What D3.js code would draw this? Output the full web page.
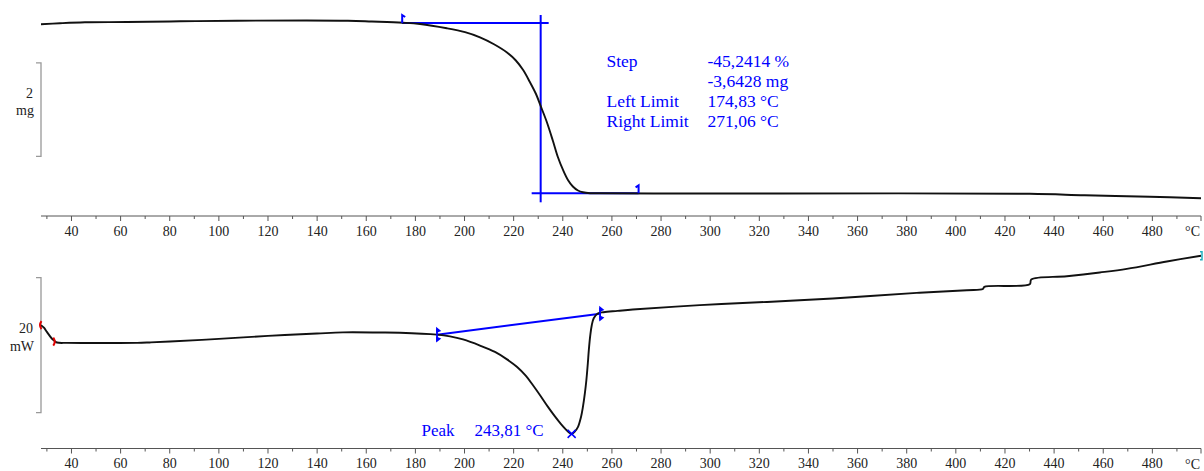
<!DOCTYPE html>
<html>
<head>
<meta charset="utf-8">
<script src="https://cdn.jsdelivr.net/npm/d3@7"></script>
<style>
  html, body { margin: 0; padding: 0; background: #fff; }
  svg { display: block; }
  text { font-family: "Liberation Serif", "Times New Roman", serif; }
</style>
</head>
<body>
<svg id="chart" width="1204" height="471"></svg>
<script>
// ---------------- DATA ----------------
// Temperature axis (°C)
const tempDomain = [27.8, 500];
const majorTicks = [40,60,80,100,120,140,160,180,200,220,240,260,280,300,320,340,360,380,400,420,440,460,480];
const minorTicks = [30,50,70,90,110,130,150,170,190,210,230,250,270,290,310,330,350,370,390,410,430,450,470,490];
const axisUnit = "°C";

// TGA: mass (mg) vs temperature (°C)
const tgaTemp = [27.8, 35.5, 45.7, 62.8, 84.4, 107.6, 152.7, 162.5, 175.1, 182.1, 193.0, 200.4, 206.5, 212.2, 217.5, 221.1, 224.0, 226.8, 229.3, 231.3, 233.7, 236.2, 238.2, 240.3, 242.3, 244.3, 246.4, 248.4, 251.3, 255.4, 287.9, 328.6, 430.3, 452.7, 479.2, 500.0];
const tgaMass = [8.024, 8.046, 8.067, 8.073, 8.088, 8.101, 8.101, 8.084, 8.058, 8.031, 7.939, 7.855, 7.745, 7.597, 7.420, 7.250, 7.050, 6.790, 6.533, 6.262, 5.934, 5.528, 5.186, 4.908, 4.694, 4.555, 4.469, 4.431, 4.411, 4.409, 4.405, 4.405, 4.398, 4.366, 4.336, 4.302];

// TGA step evaluation
const stepPercent = "-45,2414 %";
const stepMg = "-3,6428 mg";
const leftLimit = 174.83;
const rightLimit = 271.06;
const stepMidTemp = 231.2;
const stepUpperMass = 8.052;
const stepLowerMass = 4.409;
const tgaScaleBar = [7.2, 5.2];   // 2 mg
const tgaScaleLabel = ["2", "mg"];

// DSC: heat flow (mW) vs temperature (°C)
const dscTemp = [27.8, 29.0, 30.2, 32.2, 33.2, 34.3, 38.3, 51.8, 66.9, 72.2, 80.3, 100.2, 120.2, 140.1, 150.7, 165.8, 173.9, 189.0, 194.3, 199.6, 206.5, 212.6, 217.5, 221.5, 225.2, 228.0, 231.3, 234.1, 237.0, 239.4, 241.5, 243.0, 243.81, 245.2, 246.4, 247.6, 248.4, 249.2, 249.8, 250.4, 250.8, 251.4, 252.0, 252.8, 254.4, 256.8, 262.5, 268.7, 296.0, 323.3, 350.1, 384.3, 404.7, 411.2, 411.8, 430.3, 430.9, 445.4, 458.8, 469.8, 486.1, 500.0];
const dscFlow = [2.96, 2.59, 1.97, 0.99, 0.67, 0.40, 0.34, 0.33, 0.34, 0.41, 0.55, 0.93, 1.38, 1.73, 1.90, 1.88, 1.84, 1.56, 1.30, 0.85, -0.05, -1.00, -2.10, -3.20, -4.55, -5.90, -7.60, -9.10, -10.55, -11.65, -12.50, -13.00, -13.14, -12.74, -12.10, -10.67, -9.14, -7.11, -5.19, -2.67, -0.74, 1.48, 2.96, 4.00, 4.70, 4.89, 5.08, 5.29, 5.93, 6.41, 6.92, 7.75, 8.15, 8.33, 8.64, 9.04, 9.73, 10.22, 10.77, 11.30, 12.40, 13.26];

// DSC peak evaluation
const peakTemp = 243.81;
const peakFlow = -13.14;
const peakLabel = ["Peak", "243,81 °C"];
const baselineTemp = [189.0, 255.4];
const baselineFlow = [1.55, 4.67];
const dscStartMarks = [27.8, 33.2];
const dscScaleBar = [10, -10];    // 20 mW
const dscScaleLabel = ["20", "mW"];

// ---------------- DRAWING ----------------
const svg = d3.select("#chart");
const blue = "#0000ff";

const x = d3.scaleLinear().domain(tempDomain).range([41, 1201]);
const yT = d3.scaleLinear().domain([stepLowerMass, stepUpperMass]).range([193.3, 23]);
const yD = d3.scaleLinear().domain([-10, 10]).range([412.7, 277.7]);

function drawAxis(yPos) {
  const g = svg.append("g").attr("transform", `translate(0,${yPos})`);
  const major = d3.axisBottom(x).tickValues(majorTicks).tickSize(5).tickSizeOuter(0).tickPadding(5).tickFormat(d3.format("d"));
  const ga = g.append("g").call(major);
  ga.select(".domain").remove();
  ga.selectAll("line").attr("stroke", "#555");
  ga.selectAll("text").attr("font-family", "Liberation Serif").attr("font-size", 14).attr("fill", "#222");
  const minor = d3.axisBottom(x).tickValues(minorTicks).tickSize(3).tickSizeOuter(0).tickFormat("");
  const gm = g.append("g").call(minor);
  gm.select(".domain").remove();
  gm.selectAll("line").attr("stroke", "#555");
  g.append("line").attr("x1", x(tempDomain[0])).attr("x2", x(tempDomain[1]))
    .attr("y1", 0).attr("y2", 0).attr("stroke", "#555").attr("stroke-width", 1);
  g.append("line").attr("x1", x(tempDomain[1])).attr("x2", x(tempDomain[1]))
    .attr("y1", 0).attr("y2", 5).attr("stroke", "#555");
  g.append("text").attr("x", x(tempDomain[1]) - 1).attr("y", 20)
    .attr("text-anchor", "end").attr("font-size", 14).attr("fill", "#222").text(axisUnit);
}
drawAxis(216);
drawAxis(448.5);

function scaleBar(y1, y2, labels) {
  const g = svg.append("g").attr("stroke", "#999").attr("stroke-width", 1.3).attr("fill", "none");
  g.append("path").attr("d", `M36,${y1}H41V${y2}H36`);
  const mid = (y1 + y2) / 2;
  svg.append("text").attr("x", 33).attr("y", mid - 12).attr("text-anchor", "end")
    .attr("font-size", 14).attr("fill", "#222").text(labels[0]);
  svg.append("text").attr("x", 34).attr("y", mid + 5.5).attr("text-anchor", "end")
    .attr("font-size", 14).attr("fill", "#222").text(labels[1]);
}
scaleBar(yT(tgaScaleBar[0]), yT(tgaScaleBar[1]), tgaScaleLabel);
scaleBar(yD(dscScaleBar[0]), yD(dscScaleBar[1]), dscScaleLabel);

// ---- TGA step construction
const xm = x(stepMidTemp);
const yU = yT(stepUpperMass), yL = yT(stepLowerMass);
const stepG = svg.append("g").attr("stroke", blue).attr("stroke-width", 2).attr("fill", "none");
stepG.append("line").attr("x1", x(leftLimit)).attr("x2", xm + 8).attr("y1", yU).attr("y2", yU);
stepG.append("line").attr("x1", xm - 9).attr("x2", x(rightLimit)).attr("y1", yL).attr("y2", yL);
stepG.append("line").attr("x1", xm).attr("x2", xm).attr("y1", yU - 8).attr("y2", yL + 9);

const smooth = d3.curveCatmullRom.alpha(0.5);

// TGA curve
const tgaData = tgaTemp.map((t, i) => [t, tgaMass[i]]);
svg.append("path").datum(tgaData)
  .attr("d", d3.line().x(d => x(d[0])).y(d => yT(d[1])).curve(smooth))
  .attr("fill", "none").attr("stroke", "#111").attr("stroke-width", 1.9);

// limit markers
function flag(cx, cy, dir) {
  svg.append("path").attr("d", `M${cx},${cy}V${cy - 8}l${dir * 3},2`)
    .attr("stroke", blue).attr("stroke-width", 2).attr("fill", "none");
}
flag(x(leftLimit), yU, 1);
flag(x(rightLimit), yL, -1);

// step annotation text
const ann = svg.append("g").attr("font-size", 17.5).attr("fill", blue);
const labX = 606.5, valX = 707.5;
const rows = [["Step", stepPercent], ["", stepMg], ["Left Limit", `${leftLimit.toFixed(2).replace(".", ",")} °C`], ["Right Limit", `${rightLimit.toFixed(2).replace(".", ",")} °C`]];
rows.forEach((r, i) => {
  const yb = 66.5 + i * 20;
  ann.append("text").attr("x", labX).attr("y", yb).text(r[0]);
  ann.append("text").attr("x", valX).attr("y", yb).text(r[1]);
});

// ---- DSC
svg.append("line")
  .attr("x1", x(baselineTemp[0])).attr("y1", yD(baselineFlow[0]))
  .attr("x2", x(baselineTemp[1])).attr("y2", yD(baselineFlow[1]))
  .attr("stroke", blue).attr("stroke-width", 2);

const dscData = dscTemp.map((t, i) => [t, dscFlow[i]]);
svg.append("path").datum(dscData)
  .attr("d", d3.line().x(d => x(d[0])).y(d => yD(d[1])).curve(smooth))
  .attr("fill", "none").attr("stroke", "#111").attr("stroke-width", 1.9);

// baseline markers
function limitMark(t, v) {
  const cx = x(t), cy = yD(v);
  const g = svg.append("g").attr("stroke", blue).attr("stroke-width", 1.8).attr("fill", blue);
  g.append("line").attr("x1", cx).attr("x2", cx).attr("y1", cy - 6).attr("y2", cy + 6);
  g.append("path").attr("d", `M${cx},${cy - 6}l2.5,2l-2.5,1z`);
  g.append("path").attr("d", `M${cx},${cy + 6}l2.5,-2l-2.5,-1z`);
}
limitMark(baselineTemp[0], baselineFlow[0]);
limitMark(baselineTemp[1], baselineFlow[1]);

// red integration marks at start
const r0x = x(dscStartMarks[0]) - 1.5, r0y = yD(dscFlow[0]);
svg.append("path").attr("d", `M${r0x + 2},${r0y - 4}Q${r0x - 1},${r0y} ${r0x + 2},${r0y + 4}`)
  .attr("stroke", "#e00000").attr("stroke-width", 2).attr("fill", "none");
const r1x = x(dscStartMarks[1]), r1y = yD(dscFlow[4]) + 1;
svg.append("path").attr("d", `M${r1x - 1},${r1y - 4}Q${r1x + 2},${r1y} ${r1x - 1},${r1y + 4}`)
  .attr("stroke", "#e00000").attr("stroke-width", 2).attr("fill", "none");

// cyan end mark
const ex = x(tempDomain[1]) + 1, ey = yD(dscFlow[dscFlow.length - 1]);
svg.append("path").attr("d", `M${ex - 2},${ey - 4}H${ex}V${ey + 4}H${ex - 2}`)
  .attr("stroke", "#20b0c0").attr("stroke-width", 1.5).attr("fill", "none");

// peak marker and label
const px = x(peakTemp), py = yD(peakFlow);
svg.append("path").attr("d", `M${px - 4},${py - 4}L${px + 4},${py + 4}M${px - 4},${py + 4}L${px + 4},${py - 4}`)
  .attr("stroke", blue).attr("stroke-width", 1.5);
svg.append("text").attr("x", 421.5).attr("y", 435.5).attr("font-size", 17).attr("fill", blue).text(peakLabel[0]);
svg.append("text").attr("x", 474.5).attr("y", 435.5).attr("font-size", 17).attr("fill", blue).text(peakLabel[1]);
</script>
</body>
</html>
